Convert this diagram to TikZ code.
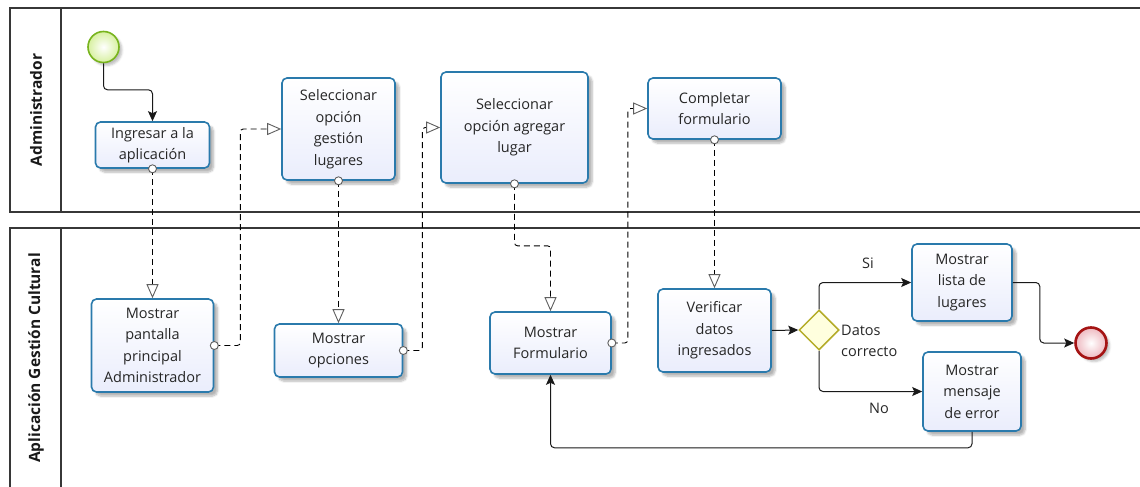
\documentclass[tikz,border=0pt]{standalone}
\usepackage{fontspec}
\setmainfont{Open Sans}
\usetikzlibrary{arrows.meta,shadows,shadows.blur,shapes.geometric}

\definecolor{taskline}{RGB}{42,122,172}
\definecolor{taskbot}{RGB}{234,237,252}
\definecolor{poolline}{RGB}{55,55,55}
\definecolor{flowline}{RGB}{25,25,25}
\definecolor{msghead}{RGB}{95,95,95}
\definecolor{startline}{RGB}{120,180,30}
\definecolor{startfill}{RGB}{215,240,160}
\definecolor{endline}{RGB}{165,20,20}
\definecolor{endfill}{RGB}{238,185,192}
\definecolor{gwline}{RGB}{180,172,40}
\definecolor{gwfill}{RGB}{255,255,222}

\tikzset{
  pool/.style={draw=poolline, line width=1.2pt},
  lanetitle/.style={rotate=90, font=\bfseries\fontsize{15.5}{18}\selectfont, text=black!90},
  task/.style={draw=taskline, line width=1.6pt, rounded corners=5pt,
    top color=white, bottom color=taskbot, align=center, inner sep=0pt,
    font=\fontsize{14.5}{21.5}\selectfont, text=black!85,
    blur shadow={shadow xshift=4pt, shadow yshift=-4pt, shadow opacity=30, shadow blur steps=6}},
  startev/.style={circle, draw=startline, line width=1.6pt, minimum size=31pt, inner sep=0pt,
    inner color=white, outer color=startfill,
    blur shadow={shadow xshift=3pt, shadow yshift=-3pt, shadow opacity=25}},
  endev/.style={circle, draw=endline, line width=2.6pt, minimum size=31pt, inner sep=0pt,
    inner color=white, outer color=endfill,
    blur shadow={shadow xshift=3pt, shadow yshift=-3pt, shadow opacity=25}},
  gateway/.style={diamond, draw=gwline, line width=1.5pt, fill=gwfill, aspect=1,
    minimum width=40pt, minimum height=40pt, inner sep=0pt},
  flow/.style={draw=flowline, line width=1pt, rounded corners=4pt,
    -{Stealth[length=10pt, width=9pt, inset=2pt]}},
  msg/.style={draw=black, line width=0.9pt, dash pattern=on 6pt off 4pt, rounded corners=3pt,
    -{Triangle[open, length=14pt, width=12pt, fill=white, color=msghead, line width=0.9pt]}},
  msgdot/.style={draw=msghead, line width=0.9pt, fill=white},
  flowlabel/.style={font=\fontsize{14.5}{21.5}\selectfont, text=black!85, inner sep=0pt}
}

\begin{document}
\begin{tikzpicture}[x=1pt, y=-1pt]
\useasboundingbox (0,0) rectangle (1140,487);

% pools and lane headers
\draw[pool] (1140,8) -- (10,8) -- (10,212) -- (1140,212);
\draw[pool] (61,8) -- (61,212);
\draw[pool] (1140,228) -- (10,228) -- (10,487);
\draw[pool] (61,228) -- (61,487);
\node[lanetitle] (lane1) at (36,110) {Administrador};
\node[lanetitle] (lane2) at (36,358) {Aplicación Gestión Cultural};

% events and gateway
\node[startev] (st) at (103.5,47) {};
\node[endev] (fin) at (1091,343) {};
\node[gateway] (gw) at (819,330) {};

% tasks
\node[task, minimum width=114pt, minimum height=46pt] (ing) at (152.5,145) {Ingresar a la\\aplicación};
\node[task, minimum width=122pt, minimum height=93pt] (mpp) at (152.5,345.5) {Mostrar\\pantalla\\principal\\Administrador};
\node[task, minimum width=113pt, minimum height=102pt] (sgl) at (338.5,129) {Seleccionar\\opción\\gestión\\lugares};
\node[task, minimum width=128pt, minimum height=53pt] (mo) at (338.5,350.5) {Mostrar\\opciones};
\node[task, minimum width=147pt, minimum height=111pt] (sal) at (514.5,127.5) {Seleccionar\\opción agregar\\lugar};
\node[task, minimum width=121pt, minimum height=62pt] (mf) at (550.5,343) {Mostrar\\Formulario};
\node[task, minimum width=133pt, minimum height=61pt] (cf) at (714.5,108.5) {Completar\\formulario};
\node[task, minimum width=113pt, minimum height=83pt] (vd) at (714.5,330.5) {Verificar\\datos\\ingresados};
\node[task, minimum width=100pt, minimum height=77pt] (ml) at (962,282.5) {Mostrar\\lista de\\lugares};
\node[task, minimum width=98pt, minimum height=79pt] (mm) at (972,391.5) {Mostrar\\mensaje\\de error};

% sequence flows
\draw[flow] (st.south) -- ++(0,26.5) -| (ing.north);
\draw[flow] (vd.east) -- (gw.west);
\draw[flow] (gw.north) |- (ml.west);
\draw[flow] (gw.south) |- (mm.west);
\draw[flow] (ml.east) -- ++(27,0) |- (fin.west);
\draw[flow] (mm.south) -- ++(0,16) -| (mf.south);

% message flows
\draw[msg] (ing.south) -- (mpp.north);
\draw[msg] (mpp.east) -- ++(26,0) |- (sgl.west);
\draw[msg] (sgl.south) -- (mo.north);
\draw[msg] (mo.east) -- ++(19,0) |- (sal.west);
\draw[msg] (sal.south) -- ++(0,62) -| (mf.north);
\draw[msg] (mf.east) -- ++(16,0) |- (cf.west);
\draw[msg] (cf.south) -- (vd.north);
\draw[msgdot] (ing.south) circle (4);
\draw[msgdot] (mpp.east) circle (4);
\draw[msgdot] (sgl.south) circle (4);
\draw[msgdot] (mo.east) circle (4);
\draw[msgdot] (sal.south) circle (4);
\draw[msgdot] (mf.east) circle (4);
\draw[msgdot] (cf.south) circle (4);

% flow labels
\node[flowlabel] (lsi) at (868,263) {Si};
\node[flowlabel] (lno) at (879,408) {No};
\node[flowlabel, anchor=west, align=left] (lgw) at (841,341) {Datos\\correcto};
\end{tikzpicture}
\end{document}
